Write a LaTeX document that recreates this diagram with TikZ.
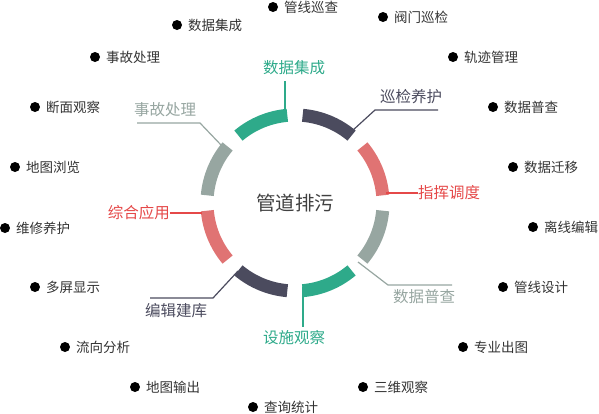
\documentclass[tikz,border=0pt]{standalone}
\usepackage{fontspec}
\setmainfont{Noto Sans CJK SC}
\usetikzlibrary{calc}
\definecolor{cgreen}{HTML}{2EAA8A}
\definecolor{cdark}{HTML}{4B4B5E}
\definecolor{cred}{HTML}{E07373}
\definecolor{cgray}{HTML}{97A6A1}
\definecolor{credtxt}{HTML}{E54848}
\definecolor{ctxt}{HTML}{333333}
\definecolor{cmain}{HTML}{404040}
\tikzset{
  seg/.style={line width=13pt},
  lead/.style={line width=1.2pt},
  ringlabel/.style={font=\fontsize{15.5}{16}\selectfont, inner sep=0pt},
  item/.style={font=\fontsize{13.5}{14}\selectfont, text=ctxt, anchor=west, inner sep=0pt},
  dot/.style={circle, fill=black, minimum size=10pt, inner sep=0pt},
}
\newcommand{\bitem}[3]{%
  \node[dot] (d#1) at (#2) {};
  \node[item] (t#1) at ($(d#1)+(11,0)$) {#3};}
\begin{document}
\begin{tikzpicture}[x=1pt,y=1pt]
\useasboundingbox (0,0) rectangle (599,-413);
\coordinate (c) at (295,-203);
% ring segments
\foreach \a/\col in {95/cgreen,50/cdark,5/cred,320/cgray,275/cgreen,230/cdark,185/cred,140/cgray}{
  \draw[seg,\col] ($(c)+(\a:88)$) arc[start angle=\a, end angle=\a+35, radius=88];
}
\node[font=\fontsize{19.5}{20}\selectfont, text=cmain] (main) at (c) {管道排污};
% ring labels and leaders
\coordinate (e1) at (285,-120);
\node[ringlabel, text=cgreen] (l1) at (294,-68) {数据集成};
\draw[lead,cgreen] (e1) -- (e1 |- 0,-81);

\coordinate (e2) at (352,-131);
\coordinate (k2) at (375,-110);
\coordinate (f2) at (438,-110);
\node[ringlabel, text=cdark] (l2) at (411,-97) {巡检养护};
\draw[lead,cdark] (e2) -- (k2) -- (f2);

\coordinate (e3) at (386,-193);
\node[ringlabel, text=credtxt, anchor=west] (l3) at (418,-193) {指挥调度};
\draw[lead,credtxt] (e3) -- (l3.west);

\coordinate (e4) at (358,-262);
\coordinate (k4) at (388,-285);
\coordinate (f4) at (452,-285);
\node[ringlabel, text=cgray] (l4) at (424,-297) {数据普查};
\draw[lead,cgray] (e4) -- (k4) -- (f4);

\coordinate (e5) at (303,-287);
\node[ringlabel, text=cgreen] (l5) at (294,-338) {设施观察};
\draw[lead,cgreen] (e5) -- (e5 |- 0,-327);

\coordinate (e6) at (238,-271);
\coordinate (k6) at (213,-298);
\coordinate (f6) at (150,-298);
\node[ringlabel, text=cdark] (l6) at (176,-311) {编辑建库};
\draw[lead,cdark] (e6) -- (k6) -- (f6);

\coordinate (e7) at (202,-213);
\node[ringlabel, text=credtxt, anchor=east] (l7) at (170,-213) {综合应用};
\draw[lead,credtxt] (e7) -- (l7.east);

\coordinate (e8) at (222,-146);
\coordinate (k8) at (200,-123);
\coordinate (f8) at (137,-123);
\node[ringlabel, text=cgray] (l8) at (165,-110) {事故处理};
\draw[lead,cgray] (e8) -- (k8) -- (f8);

% outer items
\bitem{a}{273,-7}{管线巡查}
\bitem{b}{383,-17}{阀门巡检}
\bitem{c}{453,-57}{轨迹管理}
\bitem{d}{493,-107}{数据普查}
\bitem{e}{513,-167}{数据迁移}
\bitem{f}{533,-227}{离线编辑}
\bitem{g}{503,-287}{管线设计}
\bitem{h}{463,-347}{专业出图}
\bitem{i}{363,-387}{三维观察}
\bitem{j}{253,-407}{查询统计}
\bitem{k}{135,-387}{地图输出}
\bitem{l}{65,-347}{流向分析}
\bitem{m}{35,-287}{多屏显示}
\bitem{n}{5,-228}{维修养护}
\bitem{o}{15,-167}{地图浏览}
\bitem{p}{35,-107}{断面观察}
\bitem{q}{95,-57}{事故处理}
\bitem{r}{177,-25}{数据集成}
\end{tikzpicture}
\end{document}
